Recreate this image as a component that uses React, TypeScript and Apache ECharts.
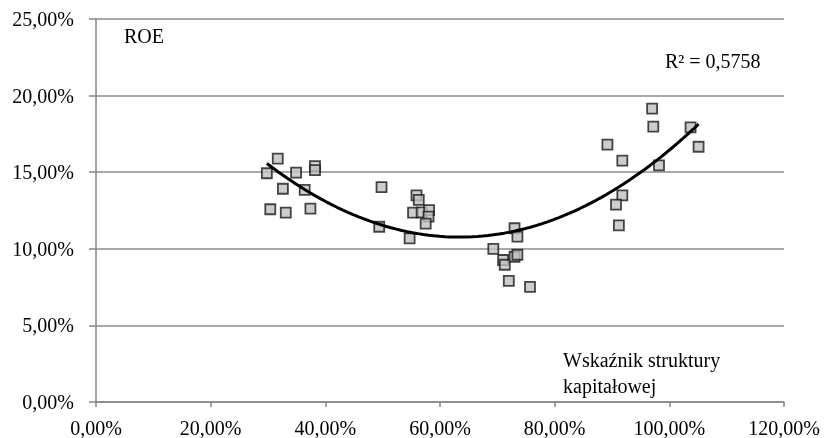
import React, { useEffect, useRef } from "react";
import * as echarts from "echarts";

const capitalStructure: number[] = [
  31.7, 29.8, 34.9, 38.2, 38.2, 32.6, 36.4, 30.4, 33.1, 37.4,
  49.8, 49.4,
  55.9, 56.3, 55.3, 56.8, 58.1, 58.0, 57.5, 54.7,
  73.0, 73.5, 69.3, 71.0, 71.3, 73.0, 73.5, 72.0, 75.7,
  97.0, 97.2, 103.7, 89.2, 105.1, 91.8, 98.2, 91.8, 90.7, 91.2,
];
const roe: number[] = [
  15.88, 14.93, 14.97, 15.4, 15.14, 13.92, 13.84, 12.58, 12.36, 12.62,
  14.03, 11.44,
  13.49, 13.19, 12.36, 12.38, 12.53, 12.1, 11.64, 10.68,
  11.34, 10.79, 10.0, 9.27, 8.96, 9.48, 9.61, 7.9, 7.51,
  19.15, 17.97, 17.93, 16.8, 16.66, 15.75, 15.45, 13.49, 12.88, 11.53,
];
const yTicks: number[] = [0, 5, 10, 15, 20, 25];
const xTicks: number[] = [0, 20, 40, 60, 80, 100, 120];
const rSquaredLabel = "R² = 0,5758";
const yTitle = "ROE";
const xTitle = "Wskaźnik struktury\nkapitałowej";

// least-squares quadratic fit (Excel polynomial trendline, order 2)
function quadFit(xs: number[], ys: number[]): [number, number, number] {
  let s0 = 0, s1 = 0, s2 = 0, s3 = 0, s4 = 0, t0 = 0, t1 = 0, t2 = 0;
  for (let i = 0; i < xs.length; i++) {
    const x = xs[i], y = ys[i];
    s0 += 1; s1 += x; s2 += x * x; s3 += x * x * x; s4 += x * x * x * x;
    t0 += y; t1 += x * y; t2 += x * x * y;
  }
  const M = [
    [s0, s1, s2, t0],
    [s1, s2, s3, t1],
    [s2, s3, s4, t2],
  ];
  for (let c = 0; c < 3; c++) {
    let p = c;
    for (let r = c + 1; r < 3; r++) if (Math.abs(M[r][c]) > Math.abs(M[p][c])) p = r;
    [M[c], M[p]] = [M[p], M[c]];
    for (let r = 0; r < 3; r++) {
      if (r === c) continue;
      const f = M[r][c] / M[c][c];
      for (let k = c; k < 4; k++) M[r][k] -= f * M[c][k];
    }
  }
  return [M[0][3] / M[0][0], M[1][3] / M[1][1], M[2][3] / M[2][2]];
}

const fmt = (v: number) => v.toFixed(2).replace(".", ",") + "%";

export default function App() {
  const ref = useRef<HTMLDivElement>(null);
  useEffect(() => {
    if (!ref.current) return;
    const chart = echarts.init(ref.current, undefined, { renderer: "svg" });
    const [a, b, c] = quadFit(capitalStructure, roe);
    const xmin = Math.min(...capitalStructure);
    const xmax = Math.max(...capitalStructure);
    const trend: [number, number][] = [];
    const n = 80;
    for (let i = 0; i <= n; i++) {
      const x = xmin + ((xmax - xmin) * i) / n;
      trend.push([x, a + b * x + c * x * x]);
    }
    const font = "Liberation Serif";
    chart.setOption({
      animation: false,
      grid: { left: 96, right: 43, top: 19, bottom: 36, containLabel: false },
      xAxis: {
        type: "value",
        min: xTicks[0],
        max: xTicks[xTicks.length - 1],
        interval: 20,
        axisLine: { show: true, lineStyle: { color: "#868686", width: 1.5 } },
        axisTick: { show: true, length: 5, lineStyle: { color: "#868686", width: 1.5 } },
        splitLine: { show: false },
        axisLabel: { color: "#000", fontSize: 20, fontFamily: font, margin: 16, formatter: fmt },
      },
      yAxis: {
        type: "value",
        min: yTicks[0],
        max: yTicks[yTicks.length - 1],
        interval: 5,
        axisLine: { show: true, lineStyle: { color: "#868686", width: 1.5 } },
        axisTick: { show: true, length: 7, lineStyle: { color: "#868686", width: 1.5 } },
        splitLine: { show: true, lineStyle: { color: "#8c8c8c", width: 1.5 } },
        axisLabel: { color: "#000", fontSize: 20, fontFamily: font, margin: 22, formatter: fmt },
      },
      series: [
        {
          type: "line",
          data: trend,
          showSymbol: false,
          smooth: false,
          lineStyle: { color: "#000", width: 3 },
          z: 3,
        },
        {
          type: "scatter",
          data: capitalStructure.map((x, i) => [x, roe[i]]),
          symbol: "rect",
          symbolSize: 10,
          itemStyle: { color: "#c0c0c0", borderColor: "#1a1a1a", borderWidth: 1.8 },
          z: 2,
        },
      ],
      graphic: [
        { type: "text", x: 124, y: 36, style: { text: yTitle, fontFamily: font, fontSize: 20, fill: "#000", verticalAlign: "middle" } },
        { type: "text", x: 665, y: 61, style: { text: rSquaredLabel, fontFamily: font, fontSize: 20, fill: "#000", verticalAlign: "middle" } },
        { type: "text", x: 563, y: 347, style: { text: xTitle, fontFamily: font, fontSize: 20, fill: "#000", verticalAlign: "top", lineHeight: 26 } },
      ],
    });
    return () => chart.dispose();
  }, []);
  return (
    <div
      ref={ref}
      style={{ position: "fixed", left: 0, top: 0, width: 827, height: 438 }}
    />
  );
}
